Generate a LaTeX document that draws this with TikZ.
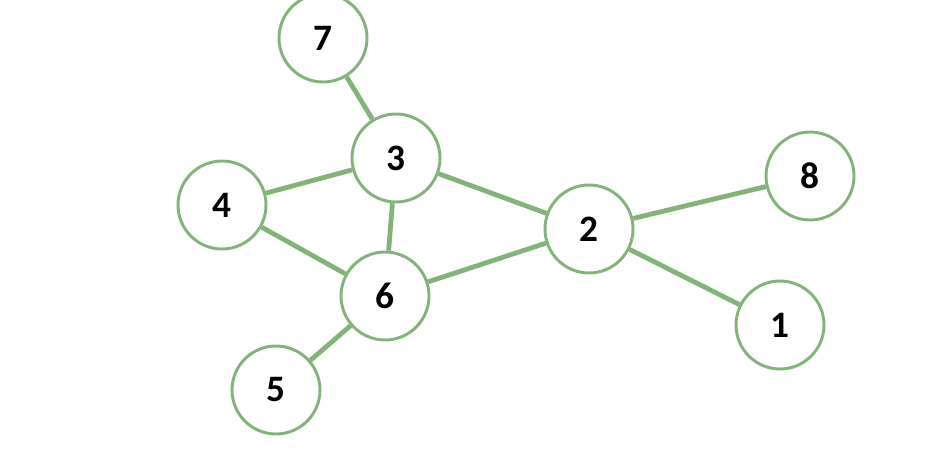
\documentclass[tikz,border=0pt]{standalone}
\usepackage{fontspec}
\setmainfont{Carlito}
\definecolor{gr}{RGB}{130,180,122}
\begin{document}
\begin{tikzpicture}[x=0.75pt,y=-0.75pt,
  vtx/.style={circle,draw=gr,line width=2.2pt,fill=white,minimum size=88*0.75pt,inner sep=0pt,font=\fontsize{28}{32}\selectfont\bfseries},
  edge/.style={draw=gr,line width=3.6pt}]
\useasboundingbox (0,0) rectangle (934,474);
\node[vtx] (n7) at (323,38) {7};
\node[vtx] (n3) at (396,158) {3};
\node[vtx] (n4) at (222,205) {4};
\node[vtx] (n2) at (589,229) {2};
\node[vtx] (n8) at (810,176) {8};
\node[vtx] (n6) at (385,296) {6};
\node[vtx] (n1) at (780,325) {1};
\node[vtx] (n5) at (276,390) {5};
\path[edge] (n7)--(n3) (n3)--(n4) (n3)--(n2) (n3)--(n6) (n4)--(n6) (n6)--(n2) (n6)--(n5) (n2)--(n8) (n2)--(n1);
\end{tikzpicture}
\end{document}
